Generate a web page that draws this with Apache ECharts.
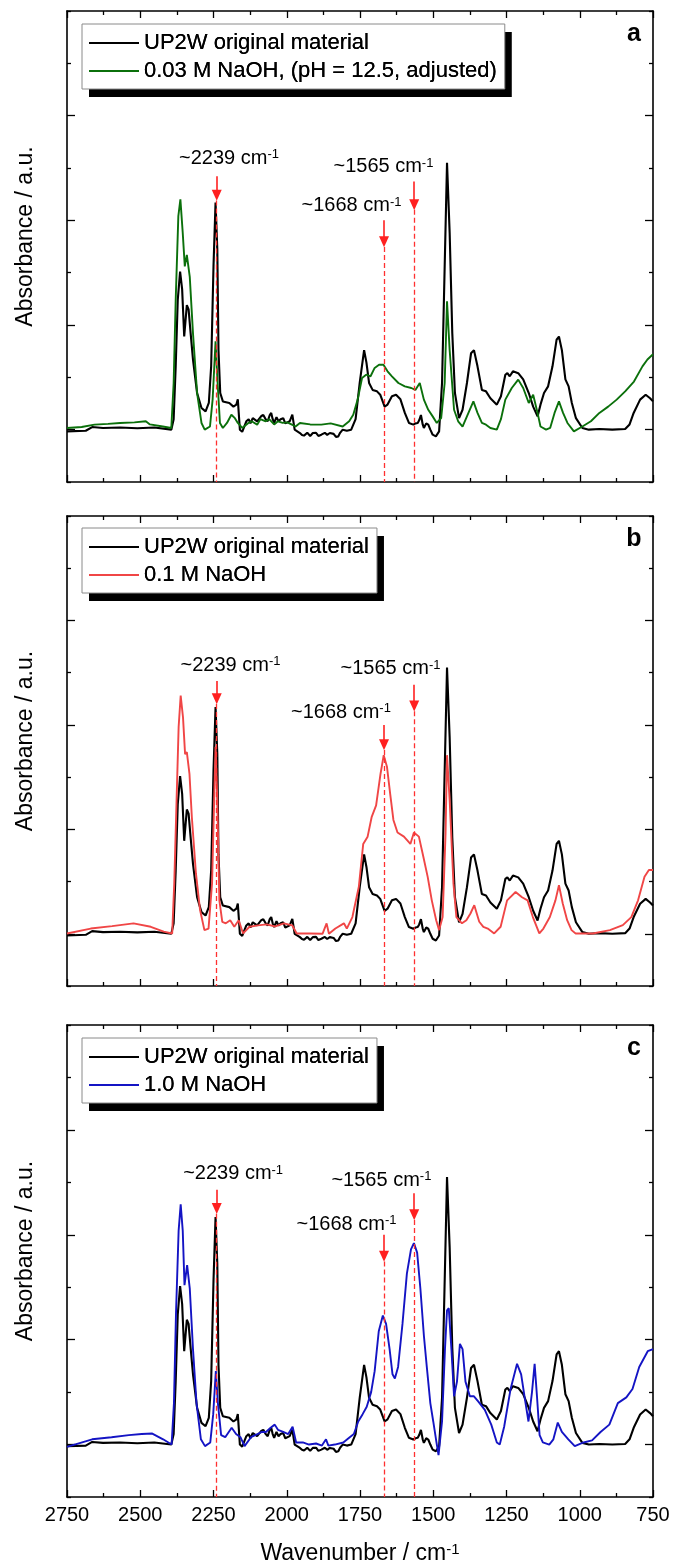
<!DOCTYPE html>
<html><head><meta charset="utf-8">
<script src="https://cdn.jsdelivr.net/npm/echarts@6/dist/echarts.min.js"></script>
<style>html,body{margin:0;padding:0;background:#fff}#c{width:673px;height:1568px}</style>
</head><body><div id="c"></div>
<script>
// ---------- DATA ----------
const xMin = 750, xMax = 2750, xStep = 250;
const yMin = 0, yMax = 4.5, yStep = 1;
const panelLetters = ['a', 'b', 'c'];
const originalName = 'UP2W original material';
const treatedNames = ['0.03 M NaOH, (pH = 12.5, adjusted)', '0.1 M NaOH', '1.0 M NaOH'];
const peakWn = [2239, 1668, 1565];
const peakText = ['~2239', '~1668', '~1565'];

// [wavenumber cm-1, absorbance a.u.]
const original = [[2750,0.484],[2686,0.49],[2664,0.525],[2627,0.516],[2569,0.52],[2510,0.513],[2452,0.52],[2394,0.5],[2386,0.6],[2379,1.105],[2372,1.74],[2364,2.01],[2357,1.84],[2350,1.39],[2341,1.69],[2335,1.65],[2328,1.42],[2320,1.17],[2306,0.85],[2291,0.707],[2277,0.675],[2266,0.755],[2258,1.105],[2250,2.06],[2243,2.67],[2237,2.22],[2233,1.26],[2227,0.85],[2218,0.77],[2196,0.755],[2182,0.72],[2172,0.74],[2167,0.79],[2160,0.5],[2152,0.48],[2145,0.53],[2138,0.58],[2130,0.6],[2124,0.56],[2116,0.61],[2110,0.62],[2101,0.58],[2095,0.57],[2087,0.63],[2080,0.64],[2072,0.6],[2065,0.58],[2058,0.64],[2053,0.66],[2048,0.6],[2043,0.565],[2035,0.62],[2028,0.58],[2021,0.6],[2012,0.61],[2005,0.56],[1999,0.55],[1990,0.58],[1981,0.643],[1973,0.5],[1955,0.468],[1948,0.45],[1941,0.443],[1930,0.47],[1920,0.44],[1911,0.468],[1900,0.47],[1892,0.44],[1882,0.452],[1870,0.47],[1862,0.45],[1853,0.468],[1840,0.46],[1832,0.43],[1824,0.436],[1818,0.47],[1809,0.5],[1795,0.49],[1780,0.5],[1765,0.6],[1751,0.946],[1736,1.26],[1728,1.14],[1719,0.946],[1707,0.88],[1692,0.866],[1681,0.834],[1666,0.72],[1656,0.74],[1641,0.82],[1627,0.834],[1612,0.79],[1597,0.66],[1583,0.564],[1568,0.548],[1560,0.56],[1553,0.564],[1548,0.59],[1542,0.64],[1536,0.55],[1532,0.516],[1524,0.56],[1517,0.548],[1510,0.5],[1502,0.452],[1491,0.436],[1480,0.484],[1470,0.946],[1461,2.06],[1453,3.05],[1444,2.38],[1435,1.42],[1426,0.85],[1412,0.61],[1400,0.69],[1385,0.946],[1371,1.23],[1361,1.26],[1349,1.105],[1334,0.88],[1320,0.866],[1305,0.8],[1283,0.739],[1269,0.82],[1254,1.025],[1247,1.04],[1239,1.01],[1228,1.057],[1210,1.04],[1193,0.98],[1174,0.85],[1159,0.72],[1144,0.627],[1134,0.739],[1122,0.85],[1108,0.914],[1093,1.105],[1079,1.36],[1071,1.39],[1061,1.26],[1049,0.98],[1038,0.914],[1027,0.755],[1013,0.61],[991,0.516],[969,0.5],[933,0.506],[889,0.5],[845,0.506],[830,0.55],[816,0.66],[794,0.787],[775,0.834],[760,0.8],[750,0.77]];

const naoh003 = [[2750,0.516],[2700,0.525],[2656,0.548],[2610,0.555],[2569,0.564],[2520,0.57],[2481,0.58],[2467,0.55],[2423,0.53],[2394,0.516],[2386,0.946],[2379,1.74],[2370,2.54],[2363,2.7],[2355,2.38],[2348,2.06],[2341,2.17],[2331,1.96],[2320,1.42],[2306,0.85],[2291,0.564],[2280,0.5],[2262,0.53],[2253,0.787],[2243,1.344],[2236,0.946],[2228,0.564],[2218,0.516],[2204,0.564],[2189,0.643],[2177,0.61],[2167,0.564],[2152,0.516],[2131,0.564],[2120,0.58],[2101,0.548],[2090,0.6],[2072,0.58],[2060,0.6],[2043,0.55],[2030,0.58],[2014,0.565],[1998,0.57],[1984,0.55],[1970,0.53],[1955,0.564],[1920,0.55],[1882,0.548],[1850,0.56],[1809,0.53],[1787,0.58],[1773,0.643],[1758,0.787],[1743,0.994],[1729,1.025],[1714,1.01],[1700,1.09],[1685,1.12],[1670,1.12],[1656,1.057],[1641,1.01],[1619,0.946],[1597,0.914],[1575,0.898],[1561,0.88],[1546,0.946],[1532,0.787],[1517,0.69],[1502,0.627],[1488,0.564],[1473,0.61],[1461,0.946],[1453,1.726],[1444,1.26],[1429,0.69],[1415,0.58],[1400,0.53],[1385,0.627],[1363,0.77],[1349,0.66],[1334,0.564],[1320,0.548],[1305,0.516],[1283,0.5],[1269,0.6],[1254,0.787],[1232,0.898],[1210,0.978],[1193,0.898],[1174,0.755],[1159,0.834],[1144,0.66],[1134,0.53],[1115,0.5],[1101,0.516],[1086,0.66],[1071,0.77],[1057,0.66],[1042,0.564],[1020,0.484],[991,0.53],[962,0.58],[933,0.66],[903,0.72],[874,0.787],[845,0.866],[815,0.96],[786,1.105],[769,1.17],[750,1.22]];

const naoh01 = [[2750,0.503],[2669,0.55],[2596,0.573],[2523,0.6],[2464,0.567],[2420,0.52],[2391,0.503],[2384,0.98],[2376,1.78],[2369,2.48],[2362,2.78],[2354,2.57],[2347,2.22],[2341,2.24],[2332,2.03],[2324,1.62],[2310,1.08],[2296,0.73],[2281,0.535],[2267,0.55],[2255,0.98],[2243,2.29],[2237,1.78],[2230,0.82],[2220,0.615],[2208,0.6],[2193,0.63],[2179,0.567],[2164,0.63],[2149,0.503],[2127,0.567],[2098,0.58],[2069,0.59],[2039,0.57],[2010,0.6],[1981,0.58],[1966,0.503],[1922,0.503],[1878,0.5],[1864,0.6],[1856,0.5],[1834,0.55],[1805,0.6],[1795,0.55],[1776,0.66],[1754,0.95],[1739,1.36],[1724,1.43],[1710,1.62],[1695,1.73],[1680,2.03],[1669,2.21],[1658,2.1],[1647,1.84],[1636,1.59],[1622,1.47],[1600,1.43],[1578,1.36],[1566,1.47],[1549,1.43],[1534,1.24],[1519,1.045],[1505,0.82],[1490,0.63],[1480,0.535],[1468,0.66],[1458,1.46],[1453,2.21],[1444,1.78],[1431,0.98],[1421,0.66],[1402,0.6],[1387,0.63],[1373,0.694],[1360,0.774],[1343,0.615],[1329,0.567],[1314,0.55],[1292,0.503],[1270,0.567],[1248,0.82],[1219,0.9],[1197,0.85],[1178,0.82],[1160,0.66],[1138,0.503],[1124,0.55],[1102,0.66],[1083,0.82],[1071,0.965],[1058,0.79],[1043,0.63],[1028,0.535],[1014,0.503],[955,0.503],[897,0.535],[853,0.583],[824,0.66],[801,0.82],[779,1.045],[764,1.11],[750,1.11]];

const naoh10 = [[2750,0.478],[2664,0.55],[2598,0.57],[2539,0.59],[2495,0.6],[2459,0.605],[2422,0.55],[2393,0.5],[2385,0.895],[2378,1.75],[2369,2.54],[2362,2.79],[2355,2.54],[2349,2.02],[2340,2.21],[2331,1.99],[2320,1.41],[2308,0.895],[2293,0.55],[2279,0.485],[2261,0.52],[2251,0.79],[2242,1.2],[2235,0.895],[2224,0.59],[2210,0.57],[2188,0.66],[2173,0.6],[2158,0.57],[2144,0.485],[2122,0.57],[2100,0.6],[2085,0.62],[2071,0.62],[2055,0.66],[2041,0.69],[2030,0.64],[2012,0.62],[1995,0.6],[1980,0.67],[1968,0.52],[1945,0.52],[1924,0.5],[1900,0.51],[1880,0.49],[1866,0.55],[1858,0.49],[1836,0.5],[1807,0.52],[1785,0.57],[1771,0.6],[1756,0.72],[1741,0.79],[1727,0.86],[1712,1.0],[1700,1.2],[1686,1.58],[1672,1.73],[1661,1.65],[1649,1.41],[1639,1.17],[1631,1.13],[1620,1.24],[1605,1.65],[1590,2.13],[1576,2.36],[1566,2.42],[1555,2.33],[1544,1.99],[1532,1.54],[1522,1.24],[1510,0.895],[1500,0.72],[1489,0.52],[1482,0.4],[1470,0.72],[1460,1.41],[1453,1.78],[1447,1.8],[1438,1.41],[1429,0.96],[1419,1.1],[1409,1.46],[1400,1.41],[1390,1.1],[1375,0.96],[1361,0.96],[1346,0.91],[1324,0.83],[1302,0.69],[1283,0.52],[1273,0.5],[1258,0.67],[1236,1.03],[1214,1.27],[1200,1.17],[1185,0.895],[1175,0.72],[1163,1.0],[1154,1.27],[1146,0.96],[1137,0.59],[1126,0.52],[1104,0.5],[1090,0.55],[1075,0.71],[1061,0.62],[1039,0.55],[1017,0.485],[987,0.52],[958,0.54],[929,0.62],[899,0.69],[870,0.895],[841,0.95],[820,1.03],[797,1.24],[768,1.39],[750,1.41]];

const treatedData = [naoh003, naoh01, naoh10];

// ---------- LAYOUT / STYLE ----------
const FONT = '"Liberation Sans", Arial, sans-serif';
const treatedColors = ['#0b700b', '#f04646', '#1414c4'];
const panelBoxes = [{top: 11, height: 471}, {top: 516, height: 470}, {top: 1025, height: 472}];
const legendTops = [24, 528, 1038];
const arrowTop = [[2.92, 2.50, 2.87], [2.92, 2.50, 2.885], [2.93, 2.50, 2.895]];
const arrowTip = [[2.69, 2.245, 2.60], [2.70, 2.26, 2.63], [2.70, 2.245, 2.64]];
const textAnchors = [
  [[2197, 3.095], [1779, 2.64], [1670, 3.01]],
  [[2192, 3.07], [1815, 2.62], [1646, 3.04]],
  [[2183, 3.08], [1796, 2.60], [1677, 3.02]]
];

const grid = [], xAxis = [], yAxis = [], series = [], legend = [], graphic = [];
const axisLine = {show: true, onZero: false, lineStyle: {color: '#000', width: 1.6}};

panelBoxes.forEach((p, i) => {
  grid.push({left: 67, right: 20, top: p.top, height: p.height, containLabel: false});
  const last = i === panelBoxes.length - 1;
  ['bottom', 'top'].forEach(pos => {
    const showLab = last && pos === 'bottom';
    xAxis.push({
      type: 'value', gridIndex: i, position: pos, min: xMin, max: xMax, interval: xStep, inverse: true,
      axisLine,
      axisTick: {show: true, inside: true, length: 7, lineStyle: {color: '#000', width: 1.3}},
      minorTick: {show: true, splitNumber: 2, length: 4, lineStyle: {color: '#000', width: 1.3}},
      splitLine: {show: false}, minorSplitLine: {show: false},
      axisLabel: {show: showLab, margin: 8, fontSize: 20, color: '#000', fontFamily: FONT, formatter: v => String(v)},
      name: showLab ? '{a|Wavenumber / cm}{s|-1}' : '',
      nameLocation: 'middle', nameGap: 45,
      nameTextStyle: {color: '#000', fontFamily: FONT, rich: {
        a: {fontSize: 23, fontFamily: FONT, color: '#000'},
        s: {fontSize: 15, fontFamily: FONT, color: '#000', verticalAlign: 'top', lineHeight: 14}
      }}
    });
  });
  ['left', 'right'].forEach(pos => {
    yAxis.push({
      type: 'value', gridIndex: i, position: pos, min: yMin, max: yMax, interval: yStep,
      axisLine,
      axisTick: {show: true, inside: true, length: 4, lineStyle: {color: '#000', width: 1.3}},
      minorTick: {show: true, splitNumber: 2, length: 8, lineStyle: {color: '#000', width: 1.3}},
      splitLine: {show: false}, minorSplitLine: {show: false},
      axisLabel: {show: false},
      name: pos === 'left' ? 'Absorbance / a.u.' : '',
      nameLocation: 'middle', nameRotate: 90, nameGap: 30,
      nameTextStyle: {fontSize: 23, color: '#000', fontFamily: FONT, padding: [0, 0, 0, 20]}
    });
  });

  series.push({
    name: originalName, type: 'line', xAxisIndex: 2 * i, yAxisIndex: 2 * i,
    data: original, showSymbol: false, symbol: 'none', clip: true,
    lineStyle: {color: '#000', width: 2.1}, itemStyle: {color: '#000'}, z: 2
  });

  const arrows = [], dashes = [], labels = [];
  peakWn.forEach((wn, k) => {
    arrows.push([{coord: [wn, arrowTop[i][k]]}, {coord: [wn, arrowTip[i][k] + 0.05]}]);
    dashes.push([{coord: [wn, arrowTip[i][k]]}, {coord: [wn, yMin]}]);
    labels.push({coord: textAnchors[i][k], name: peakText[k]});
  });

  series.push({
    name: treatedNames[i], type: 'line', xAxisIndex: 2 * i, yAxisIndex: 2 * i,
    data: treatedData[i], showSymbol: false, symbol: 'none', clip: true,
    lineStyle: {color: treatedColors[i], width: 1.9}, itemStyle: {color: treatedColors[i]}, z: 3,
    markPoint: {
      silent: true, symbol: 'circle', symbolSize: 1, itemStyle: {color: 'rgba(0,0,0,0)'},
      label: {
        show: true, position: 'inside', color: '#000',
        formatter: d => '{a|' + d.name + ' cm}{s|-1}',
        rich: {
          a: {fontSize: 20, fontFamily: FONT, color: '#000'},
          s: {fontSize: 13, fontFamily: FONT, color: '#000', verticalAlign: 'top', lineHeight: 12}
        }
      },
      data: labels
    }
  });
  series.push({
    type: 'line', xAxisIndex: 2 * i, yAxisIndex: 2 * i, data: [], z: 4,
    markLine: {
      silent: true, animation: false, symbol: ['none', 'triangle'], symbolSize: [10, 11],
      label: {show: false}, lineStyle: {color: '#ff2020', width: 1.6, type: 'solid'},
      data: arrows
    }
  });
  series.push({
    type: 'line', xAxisIndex: 2 * i, yAxisIndex: 2 * i, data: [], z: 4,
    markLine: {
      silent: true, animation: false, symbol: ['none', 'none'],
      label: {show: false}, lineStyle: {color: '#ff3030', width: 1.3, type: [5, 3]},
      data: dashes
    }
  });

  const legendBase = {
    data: [originalName, treatedNames[i]], orient: 'vertical', left: 82, top: legendTops[i],
    icon: 'rect', itemWidth: 50, itemHeight: 2,
    padding: [8, 8, 7, 7], itemGap: 6, selectedMode: false,
    textStyle: {fontSize: 22, lineHeight: 22, color: '#000', fontFamily: FONT}
  };
  // white box with the black drop shadow
  legend.push(Object.assign({}, legendBase, {
    backgroundColor: '#fff', borderWidth: 0,
    shadowColor: '#000', shadowBlur: 0, shadowOffsetX: 7, shadowOffsetY: 8
  }));
  // thin grey frame on top (no shadow)
  legend.push(Object.assign({}, legendBase, {
    backgroundColor: 'transparent', borderColor: '#8a8a8a', borderWidth: 1
  }));

  graphic.push({
    type: 'text', x: 634, y: p.top + 23,
    style: {text: panelLetters[i], font: 'bold 25px ' + FONT, fill: '#000', textAlign: 'center', textVerticalAlign: 'middle'}
  });
});

const chart = echarts.init(document.getElementById('c'), null, {renderer: 'canvas'});
chart.setOption({
  backgroundColor: '#fff', animation: false,
  textStyle: {fontFamily: FONT},
  grid, xAxis, yAxis, series, legend, graphic
});
</script></body></html>
